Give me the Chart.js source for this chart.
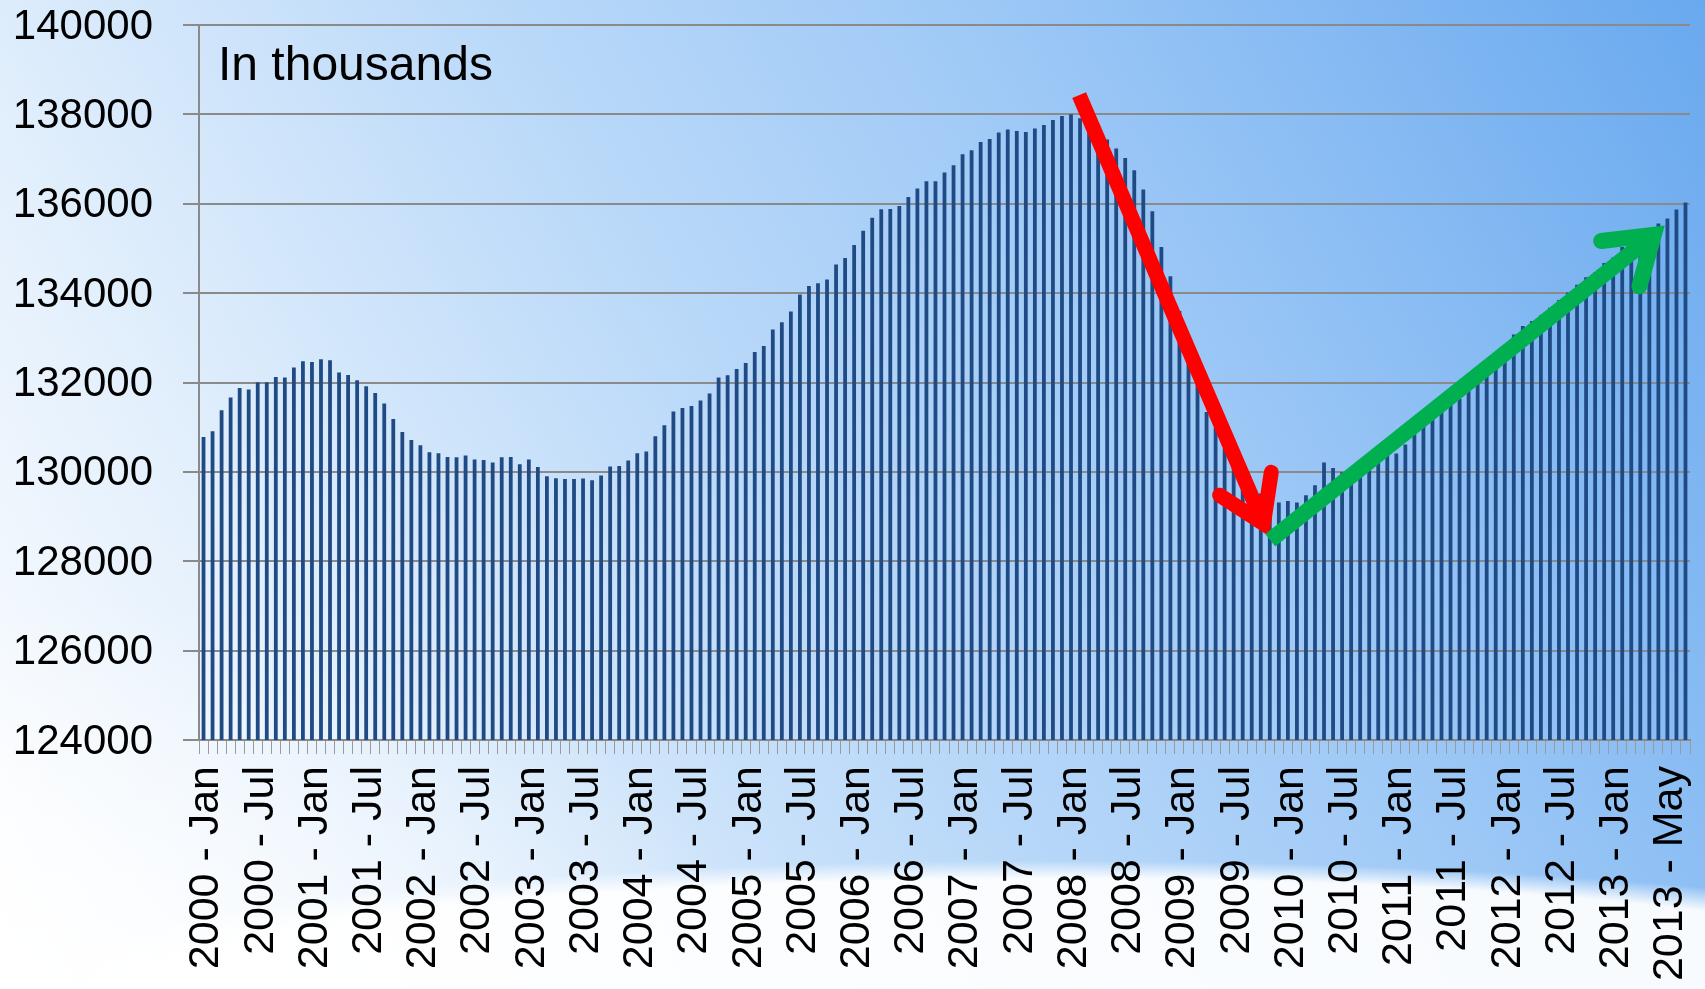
<!DOCTYPE html>
<html>
<head>
<meta charset="utf-8">
<title>Employment</title>
<script src="https://cdn.jsdelivr.net/npm/chart.js@4.4.0/dist/chart.umd.min.js"></script>
<style>
html, body { margin: 0; padding: 0; }
body {
    width: 1705px;
    height: 989px;
    overflow: hidden;
    background:
        radial-gradient(ellipse 62% 13% at 62% 100%, rgba(255,255,255,0.93) 86%, rgba(255,255,255,0) 100%),
        radial-gradient(ellipse 45% 40% at 0% 100%, rgba(255,255,255,0.9) 0%, rgba(255,255,255,0) 100%),
        linear-gradient(60deg, #ffffff 0%, #e2effc 22%, #bcdaf9 45%, #9dc8f6 68%, #69a9ef 100%);
}
canvas { display: block; }
</style>
</head>
<body>
<canvas id="grafik" width="1705" height="989"></canvas>
<script>
// axis labels shown under the bars (one every 6 months, last one as printed)
const tickLabels = [
    '2000 - Jan', '2000 - Jul', '2001 - Jan', '2001 - Jul', '2002 - Jan', '2002 - Jul',
    '2003 - Jan', '2003 - Jul', '2004 - Jan', '2004 - Jul', '2005 - Jan', '2005 - Jul',
    '2006 - Jan', '2006 - Jul', '2007 - Jan', '2007 - Jul', '2008 - Jan', '2008 - Jul',
    '2009 - Jan', '2009 - Jul', '2010 - Jan', '2010 - Jul', '2011 - Jan', '2011 - Jul',
    '2012 - Jan', '2012 - Jul', '2013 - Jan', '2013 - May'
];

const yTicks = [124000, 126000, 128000, 130000, 132000, 134000, 136000, 138000, 140000];

// jobs, in thousands, one bar per month
const employment = [
    130783, 130910, 131380, 131664, 131879, 131843, 132006, 132006, 132125, 132112, 132335, 132476,
    132461, 132521, 132499, 132223, 132170, 132051, 131917, 131767, 131530, 131185, 130894, 130716,
    130597, 130440, 130418, 130335, 130328, 130366, 130277, 130268, 130210, 130328, 130335, 130172,
    130277, 130111, 129903, 129859, 129840, 129840, 129852, 129814, 129919, 130120, 130134, 130254,
    130418, 130456, 130798, 131044, 131351, 131431, 131476, 131597, 131753, 132112, 132163, 132304,
    132438, 132684, 132818, 133185, 133348, 133588, 133968, 134160, 134221, 134304, 134640, 134787,
    135078, 135395, 135686, 135876, 135883, 135950, 136151, 136339, 136502, 136502, 136697, 136861,
    137107, 137196, 137382, 137449, 137592, 137659, 137628, 137606, 137682, 137763, 137874, 137963,
    138001, 137912, 137830, 137640, 137435, 137234, 137024, 136749, 136317, 135831, 135033, 134377,
    133600, 132860, 132060, 131342, 130980, 130530, 130200, 129990, 129720, 129516, 129500, 129315,
    129351, 129315, 129478, 129702, 130210, 130089, 129993, 129950, 129890, 130160, 130300, 130380,
    130410, 130610, 130840, 131150, 131260, 131440, 131520, 131630, 131830, 132020, 132200, 132450,
    132780, 133073, 133266, 133377, 133505, 133675, 133845, 134015, 134185, 134355, 134460, 134675,
    134796, 135033, 135200, 135350, 135450, 135560, 135668, 135870, 136026
];

const monthNames = ['Jan', 'Feb', 'Mar', 'Apr', 'May', 'Jun', 'Jul', 'Aug', 'Sep', 'Oct', 'Nov', 'Dec'];
const categories = employment.map((v, i) => (2000 + Math.floor(i / 12)) + ' - ' + monthNames[i % 12]);

// arrows drawn over the bars, in (month index, value) units
const fallArrow = { start: [96.9, 138430], corner: [117.3, 128840], barbs: [[112.45, 129478], [118.16, 129990]] };
const riseArrow = { start: [118.05, 128470], corner: [160.5, 135306], barbs: [[154.67, 135167], [158.9, 134154]] };

const FONT = "'Liberation Sans', Arial, sans-serif";

function drawArrow(ctx, xs, ys, arrow, color, width) {
    const px = p => [xs.getPixelForValue(p[0]), ys.getPixelForValue(p[1])];
    const s = px(arrow.start), c = px(arrow.corner);
    const b1 = px(arrow.barbs[0]), b2 = px(arrow.barbs[1]);
    ctx.save();
    ctx.strokeStyle = color;
    ctx.lineWidth = width;
    ctx.lineCap = 'butt';
    ctx.beginPath();
    ctx.moveTo(s[0], s[1]);
    ctx.lineTo(c[0], c[1]);
    ctx.stroke();
    ctx.lineCap = 'round';
    ctx.lineJoin = 'miter';
    ctx.miterLimit = 10;
    ctx.beginPath();
    ctx.moveTo(b1[0], b1[1]);
    ctx.lineTo(c[0], c[1]);
    ctx.lineTo(b2[0], b2[1]);
    ctx.stroke();
    ctx.restore();
}

const overlay = {
    id: 'overlay',
    afterDatasetsDraw(chart) {
        const ctx = chart.ctx;
        const xs = chart.scales.x, ys = chart.scales.y;
        ctx.save();
        ctx.fillStyle = '#000';
        ctx.font = '48px ' + FONT;
        ctx.textBaseline = 'alphabetic';
        ctx.fillText('In thousands', 218, 80);
        ctx.restore();
        drawArrow(ctx, xs, ys, fallArrow, '#ff0000', 15);
        drawArrow(ctx, xs, ys, riseArrow, '#00b050', 16);
    }
};

function noPadding(scale) {
    scale.paddingLeft = 0;
    scale.paddingRight = 0;
    scale.paddingTop = 0;
    scale.paddingBottom = 0;
}

const ctx = document.getElementById('grafik');
new Chart(ctx, {
    type: 'bar',
    data: {
        labels: categories,
        datasets: [{
            label: 'Employment',
            data: employment,
            backgroundColor: '#1f4a84',
            borderWidth: 0,
            barPercentage: 0.42,
            categoryPercentage: 1.0
        }]
    },
    options: {
        responsive: false,
        animation: false,
        devicePixelRatio: 1,
        layout: { padding: { top: 25, right: 15, bottom: 0, left: 0 } },
        plugins: {
            legend: { display: false },
            tooltip: { enabled: false }
        },
        scales: {
            x: {
                offset: true,
                grid: {
                    offset: true,
                    drawOnChartArea: false,
                    drawTicks: true,
                    tickLength: 14,
                    color: '#9a9a9a',
                    lineWidth: 1
                },
                border: { color: '#8a8a8a', width: 2 },
                ticks: {
                    autoSkip: false,
                    minRotation: 90,
                    maxRotation: 90,
                    padding: 12,
                    labelOffset: 3,
                    color: '#000',
                    font: { family: FONT, size: 43 },
                    callback: (value, index) => index % 6 === 0 ? (tickLabels[index / 6] || '') : ''
                },
                afterFit: scale => { scale.height = 249; noPadding(scale); }
            },
            y: {
                min: yTicks[0],
                max: yTicks[yTicks.length - 1],
                afterBuildTicks: scale => { scale.ticks = yTicks.map(v => ({ value: v })); },
                grid: {
                    color: '#8a8a8a',
                    lineWidth: 2,
                    tickLength: 16
                },
                border: { color: '#8a8a8a', width: 2 },
                ticks: {
                    padding: 30,
                    labelOffset: 2,
                    color: '#000',
                    font: { family: FONT, size: 42 },
                    callback: v => String(v)
                },
                afterFit: scale => { scale.width = 199; noPadding(scale); }
            }
        }
    },
    plugins: [overlay]
});
</script>
</body>
</html>
